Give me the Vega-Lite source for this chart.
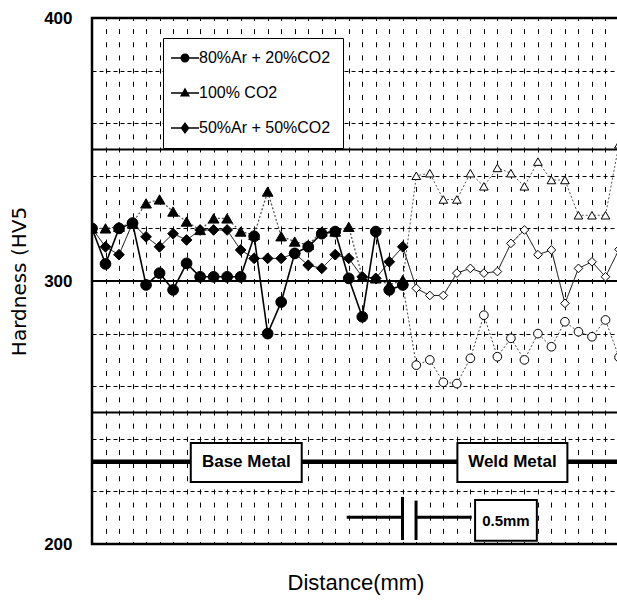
{
 "$schema": "https://vega.github.io/schema/vega-lite/v6.json",
 "width": 527,
 "height": 526,
 "autosize": {"type": "none"},
 "padding": {"left": 92, "top": 18, "right": 0, "bottom": 64},
 "background": "white",
 "config": {"view": {"stroke": "black", "strokeWidth": 2.5}},
 "datasets": {
  "pts": [
   {"gas":"80%Ar + 20%CO2","pos":0,"hv":320,"zone":"base"},
   {"gas":"80%Ar + 20%CO2","pos":1,"hv":306.5,"zone":"base"},
   {"gas":"80%Ar + 20%CO2","pos":2,"hv":320,"zone":"base"},
   {"gas":"80%Ar + 20%CO2","pos":3,"hv":322,"zone":"base"},
   {"gas":"80%Ar + 20%CO2","pos":4,"hv":298.5,"zone":"base"},
   {"gas":"80%Ar + 20%CO2","pos":5,"hv":303,"zone":"base"},
   {"gas":"80%Ar + 20%CO2","pos":6,"hv":296.6,"zone":"base"},
   {"gas":"80%Ar + 20%CO2","pos":7,"hv":306.7,"zone":"base"},
   {"gas":"80%Ar + 20%CO2","pos":8,"hv":301.6,"zone":"base"},
   {"gas":"80%Ar + 20%CO2","pos":9,"hv":301.6,"zone":"base"},
   {"gas":"80%Ar + 20%CO2","pos":10,"hv":301.6,"zone":"base"},
   {"gas":"80%Ar + 20%CO2","pos":11,"hv":301.6,"zone":"base"},
   {"gas":"80%Ar + 20%CO2","pos":12,"hv":317,"zone":"base"},
   {"gas":"80%Ar + 20%CO2","pos":13,"hv":280,"zone":"base"},
   {"gas":"80%Ar + 20%CO2","pos":14,"hv":292,"zone":"base"},
   {"gas":"80%Ar + 20%CO2","pos":15,"hv":310.5,"zone":"base"},
   {"gas":"80%Ar + 20%CO2","pos":16,"hv":313,"zone":"base"},
   {"gas":"80%Ar + 20%CO2","pos":17,"hv":318,"zone":"base"},
   {"gas":"80%Ar + 20%CO2","pos":18,"hv":318.8,"zone":"base"},
   {"gas":"80%Ar + 20%CO2","pos":19,"hv":301,"zone":"base"},
   {"gas":"80%Ar + 20%CO2","pos":20,"hv":286.4,"zone":"base"},
   {"gas":"80%Ar + 20%CO2","pos":21,"hv":318.8,"zone":"base"},
   {"gas":"80%Ar + 20%CO2","pos":22,"hv":296.6,"zone":"base"},
   {"gas":"80%Ar + 20%CO2","pos":23,"hv":298.5,"zone":"base"},
   {"gas":"80%Ar + 20%CO2","pos":24,"hv":268,"zone":"weld"},
   {"gas":"80%Ar + 20%CO2","pos":25,"hv":270,"zone":"weld"},
   {"gas":"80%Ar + 20%CO2","pos":26,"hv":261.5,"zone":"weld"},
   {"gas":"80%Ar + 20%CO2","pos":27,"hv":261,"zone":"weld"},
   {"gas":"80%Ar + 20%CO2","pos":28,"hv":270.6,"zone":"weld"},
   {"gas":"80%Ar + 20%CO2","pos":29,"hv":287,"zone":"weld"},
   {"gas":"80%Ar + 20%CO2","pos":30,"hv":271.2,"zone":"weld"},
   {"gas":"80%Ar + 20%CO2","pos":31,"hv":278.2,"zone":"weld"},
   {"gas":"80%Ar + 20%CO2","pos":32,"hv":270,"zone":"weld"},
   {"gas":"80%Ar + 20%CO2","pos":33,"hv":280,"zone":"weld"},
   {"gas":"80%Ar + 20%CO2","pos":34,"hv":275,"zone":"weld"},
   {"gas":"80%Ar + 20%CO2","pos":35,"hv":284.5,"zone":"weld"},
   {"gas":"80%Ar + 20%CO2","pos":36,"hv":280.7,"zone":"weld"},
   {"gas":"80%Ar + 20%CO2","pos":37,"hv":278.8,"zone":"weld"},
   {"gas":"80%Ar + 20%CO2","pos":38,"hv":285.2,"zone":"weld"},
   {"gas":"80%Ar + 20%CO2","pos":39,"hv":271,"zone":"weld"},
   {"gas":"100% CO2","pos":0,"hv":320,"zone":"base"},
   {"gas":"100% CO2","pos":1,"hv":320,"zone":"base"},
   {"gas":"100% CO2","pos":2,"hv":320.6,"zone":"base"},
   {"gas":"100% CO2","pos":3,"hv":322,"zone":"base"},
   {"gas":"100% CO2","pos":4,"hv":329.5,"zone":"base"},
   {"gas":"100% CO2","pos":5,"hv":331,"zone":"base"},
   {"gas":"100% CO2","pos":6,"hv":326.4,"zone":"base"},
   {"gas":"100% CO2","pos":7,"hv":322.6,"zone":"base"},
   {"gas":"100% CO2","pos":8,"hv":319.4,"zone":"base"},
   {"gas":"100% CO2","pos":9,"hv":323.8,"zone":"base"},
   {"gas":"100% CO2","pos":10,"hv":323.8,"zone":"base"},
   {"gas":"100% CO2","pos":11,"hv":318.8,"zone":"base"},
   {"gas":"100% CO2","pos":12,"hv":317.5,"zone":"base"},
   {"gas":"100% CO2","pos":13,"hv":334,"zone":"base"},
   {"gas":"100% CO2","pos":14,"hv":317,"zone":"base"},
   {"gas":"100% CO2","pos":15,"hv":315,"zone":"base"},
   {"gas":"100% CO2","pos":16,"hv":313.7,"zone":"base"},
   {"gas":"100% CO2","pos":17,"hv":318.8,"zone":"base"},
   {"gas":"100% CO2","pos":18,"hv":318.8,"zone":"base"},
   {"gas":"100% CO2","pos":19,"hv":320.6,"zone":"base"},
   {"gas":"100% CO2","pos":20,"hv":301.6,"zone":"base"},
   {"gas":"100% CO2","pos":21,"hv":301,"zone":"base"},
   {"gas":"100% CO2","pos":22,"hv":298.5,"zone":"base"},
   {"gas":"100% CO2","pos":23,"hv":300.4,"zone":"base"},
   {"gas":"100% CO2","pos":24,"hv":340,"zone":"weld"},
   {"gas":"100% CO2","pos":25,"hv":341,"zone":"weld"},
   {"gas":"100% CO2","pos":26,"hv":331,"zone":"weld"},
   {"gas":"100% CO2","pos":27,"hv":331,"zone":"weld"},
   {"gas":"100% CO2","pos":28,"hv":341,"zone":"weld"},
   {"gas":"100% CO2","pos":29,"hv":336,"zone":"weld"},
   {"gas":"100% CO2","pos":30,"hv":343,"zone":"weld"},
   {"gas":"100% CO2","pos":31,"hv":341,"zone":"weld"},
   {"gas":"100% CO2","pos":32,"hv":336,"zone":"weld"},
   {"gas":"100% CO2","pos":33,"hv":345.4,"zone":"weld"},
   {"gas":"100% CO2","pos":34,"hv":338.4,"zone":"weld"},
   {"gas":"100% CO2","pos":35,"hv":338.4,"zone":"weld"},
   {"gas":"100% CO2","pos":36,"hv":325,"zone":"weld"},
   {"gas":"100% CO2","pos":37,"hv":325,"zone":"weld"},
   {"gas":"100% CO2","pos":38,"hv":325,"zone":"weld"},
   {"gas":"100% CO2","pos":39,"hv":352,"zone":"weld"},
   {"gas":"50%Ar + 50%CO2","pos":0,"hv":320,"zone":"base"},
   {"gas":"50%Ar + 50%CO2","pos":1,"hv":313,"zone":"base"},
   {"gas":"50%Ar + 50%CO2","pos":2,"hv":310,"zone":"base"},
   {"gas":"50%Ar + 50%CO2","pos":3,"hv":322,"zone":"base"},
   {"gas":"50%Ar + 50%CO2","pos":4,"hv":316.8,"zone":"base"},
   {"gas":"50%Ar + 50%CO2","pos":5,"hv":313,"zone":"base"},
   {"gas":"50%Ar + 50%CO2","pos":6,"hv":318,"zone":"base"},
   {"gas":"50%Ar + 50%CO2","pos":7,"hv":315.6,"zone":"base"},
   {"gas":"50%Ar + 50%CO2","pos":8,"hv":319.4,"zone":"base"},
   {"gas":"50%Ar + 50%CO2","pos":9,"hv":319.4,"zone":"base"},
   {"gas":"50%Ar + 50%CO2","pos":10,"hv":319.4,"zone":"base"},
   {"gas":"50%Ar + 50%CO2","pos":11,"hv":311.8,"zone":"base"},
   {"gas":"50%Ar + 50%CO2","pos":12,"hv":308.6,"zone":"base"},
   {"gas":"50%Ar + 50%CO2","pos":13,"hv":308.6,"zone":"base"},
   {"gas":"50%Ar + 50%CO2","pos":14,"hv":308.6,"zone":"base"},
   {"gas":"50%Ar + 50%CO2","pos":15,"hv":310.5,"zone":"base"},
   {"gas":"50%Ar + 50%CO2","pos":16,"hv":306,"zone":"base"},
   {"gas":"50%Ar + 50%CO2","pos":17,"hv":304.8,"zone":"base"},
   {"gas":"50%Ar + 50%CO2","pos":18,"hv":310,"zone":"base"},
   {"gas":"50%Ar + 50%CO2","pos":19,"hv":308.6,"zone":"base"},
   {"gas":"50%Ar + 50%CO2","pos":20,"hv":301.6,"zone":"base"},
   {"gas":"50%Ar + 50%CO2","pos":21,"hv":301,"zone":"base"},
   {"gas":"50%Ar + 50%CO2","pos":22,"hv":307.3,"zone":"base"},
   {"gas":"50%Ar + 50%CO2","pos":23,"hv":313,"zone":"base"},
   {"gas":"50%Ar + 50%CO2","pos":24,"hv":297.2,"zone":"weld"},
   {"gas":"50%Ar + 50%CO2","pos":25,"hv":294.5,"zone":"weld"},
   {"gas":"50%Ar + 50%CO2","pos":26,"hv":294.5,"zone":"weld"},
   {"gas":"50%Ar + 50%CO2","pos":27,"hv":303,"zone":"weld"},
   {"gas":"50%Ar + 50%CO2","pos":28,"hv":304.8,"zone":"weld"},
   {"gas":"50%Ar + 50%CO2","pos":29,"hv":303,"zone":"weld"},
   {"gas":"50%Ar + 50%CO2","pos":30,"hv":303.6,"zone":"weld"},
   {"gas":"50%Ar + 50%CO2","pos":31,"hv":314.3,"zone":"weld"},
   {"gas":"50%Ar + 50%CO2","pos":32,"hv":319.4,"zone":"weld"},
   {"gas":"50%Ar + 50%CO2","pos":33,"hv":310,"zone":"weld"},
   {"gas":"50%Ar + 50%CO2","pos":34,"hv":311.8,"zone":"weld"},
   {"gas":"50%Ar + 50%CO2","pos":35,"hv":291.5,"zone":"weld"},
   {"gas":"50%Ar + 50%CO2","pos":36,"hv":304.8,"zone":"weld"},
   {"gas":"50%Ar + 50%CO2","pos":37,"hv":307.3,"zone":"weld"},
   {"gas":"50%Ar + 50%CO2","pos":38,"hv":301.6,"zone":"weld"},
   {"gas":"50%Ar + 50%CO2","pos":39,"hv":312,"zone":"weld"}
  ],
  "refs": [{"hv": 250}, {"hv": 300}, {"hv": 350}]
 },
 "data": {"name": "pts"},
 "resolve": {"scale": {"shape": "independent", "strokeDash": "independent", "strokeWidth": "independent", "color": "independent"}},
 "layer": [
  {
   "transform": [{"filter": "datum.zone == 'base'"}],
   "mark": {"type": "line", "clip": true},
   "encoding": {
    "x": {"field": "pos", "type": "quantitative", "scale": {"domain": [0, 39], "nice": false, "zero": false},
     "axis": {"values": [0,1,2,3,4,5,6,7,8,9,10,11,12,13,14,15,16,17,18,19,20,21,22,23,24,25,26,27,28,29,30,31,32,33,34,35,36,37,38,39],
      "tickCount": 40, "labelOverlap": false,
      "labels": false, "ticks": false, "domain": false, "grid": true, "gridColor": "black", "gridOpacity": 1, "gridWidth": 1, "gridDash": [5, 8.15], "gridDashOffset": 2.5,
      "title": "Distance(mm)", "titleFont": "Liberation Sans Narrow, Arial Narrow, Liberation Sans, Arial, sans-serif", "titleFontSize": 22, "titleFontWeight": "normal", "titleColor": "black", "titleY": 38, "titleBaseline": "middle"}},
    "y": {"field": "hv", "type": "quantitative", "scale": {"domain": [200, 400], "nice": false, "zero": false},
     "axis": {"values": [200,210,220,230,240,250,260,270,280,290,300,310,320,330,340,350,360,370,380,390,400],
      "labelExpr": "datum.value % 50 === 0 ? datum.label : ''", "labelOverlap": false,
      "grid": true, "gridColor": "black", "gridOpacity": 1, "gridWidth": 1, "gridDash": [4, 3],
      "ticks": false, "domain": false,
      "labelFont": "Liberation Sans Narrow, Arial Narrow, Liberation Sans, Arial, sans-serif", "labelFontSize": 17, "labelFontWeight": "bold", "labelColor": "black", "labelPadding": 20,
      "title": "Hardness (HV5", "titleFont": "DejaVu Sans, Liberation Sans, sans-serif", "titleFontSize": 20, "titleFontWeight": "normal", "titleColor": "black",
      "titleX": -73, "titleY": 263, "titleAngle": -90, "titleAlign": "center", "titleBaseline": "middle"}},
    "detail": {"field": "gas", "type": "nominal"},
    "color": {"field": "gas", "type": "nominal", "scale": {"domain": ["80%Ar + 20%CO2", "100% CO2", "50%Ar + 50%CO2"], "range": ["black", "#555555", "black"]}, "legend": null},
    "strokeDash": {"field": "gas", "type": "nominal", "scale": {"domain": ["80%Ar + 20%CO2", "100% CO2", "50%Ar + 50%CO2"], "range": [[1, 0], [2, 2], [1, 0]]}, "legend": null},
    "strokeWidth": {"field": "gas", "type": "nominal", "scale": {"domain": ["80%Ar + 20%CO2", "100% CO2", "50%Ar + 50%CO2"], "range": [1.6, 1, 1.6]}, "legend": null}
   }
  },
  {
   "transform": [{"filter": "datum.pos >= 23"}],
   "mark": {"type": "line", "clip": true},
   "encoding": {
    "x": {"field": "pos", "type": "quantitative", "scale": {"domain": [0, 39], "nice": false, "zero": false}},
    "y": {"field": "hv", "type": "quantitative", "scale": {"domain": [200, 400], "nice": false, "zero": false}},
    "detail": {"field": "gas", "type": "nominal"},
    "color": {"field": "gas", "type": "nominal", "scale": {"domain": ["80%Ar + 20%CO2", "100% CO2", "50%Ar + 50%CO2"], "range": ["#444444", "#555555", "black"]}, "legend": null},
    "strokeDash": {"field": "gas", "type": "nominal", "scale": {"domain": ["80%Ar + 20%CO2", "100% CO2", "50%Ar + 50%CO2"], "range": [[2, 2], [2, 2], [1, 0]]}, "legend": null},
    "strokeWidth": {"field": "gas", "type": "nominal", "scale": {"domain": ["80%Ar + 20%CO2", "100% CO2", "50%Ar + 50%CO2"], "range": [1, 1, 1.5]}, "legend": null}
   }
  },
  {
   "data": {"name": "refs"},
   "mark": {"type": "rule", "color": "black", "strokeWidth": 2},
   "encoding": {
    "y": {"field": "hv", "type": "quantitative", "scale": {"domain": [200, 400], "nice": false, "zero": false}}
   }
  },
  {
   "data": {"values": [{}]},
   "mark": {"type": "rule", "color": "black", "strokeWidth": 4.5},
   "encoding": {
    "y": {"datum": 231.3, "scale": {"domain": [200, 400], "nice": false, "zero": false}}
   }
  },
  {
   "data": {"values": [{}]},
   "mark": {"type": "rect", "fill": "white", "stroke": "black", "strokeWidth": 2},
   "encoding": {
    "x": {"datum": 7.31, "scale": {"domain": [0, 39], "nice": false, "zero": false}},
    "x2": {"datum": 15.52},
    "y": {"datum": 238.4, "scale": {"domain": [200, 400], "nice": false, "zero": false}},
    "y2": {"datum": 223.6}
   }
  },
  {
   "data": {"values": [{}]},
   "mark": {"type": "rect", "fill": "white", "stroke": "black", "strokeWidth": 2},
   "encoding": {
    "x": {"datum": 27.04, "scale": {"domain": [0, 39], "nice": false, "zero": false}},
    "x2": {"datum": 35.18},
    "y": {"datum": 238.4, "scale": {"domain": [200, 400], "nice": false, "zero": false}},
    "y2": {"datum": 223.6}
   }
  },
  {
   "data": {"values": [{}]},
   "mark": {"type": "rect", "fill": "white", "stroke": "black", "strokeWidth": 2},
   "encoding": {
    "x": {"datum": 28.35, "scale": {"domain": [0, 39], "nice": false, "zero": false}},
    "x2": {"datum": 32.92},
    "y": {"datum": 216.7, "scale": {"domain": [200, 400], "nice": false, "zero": false}},
    "y2": {"datum": 201.2}
   }
  },
  {
   "data": {"values": [{}]},
   "mark": {"type": "rule", "color": "black", "strokeWidth": 3},
   "encoding": {
    "x": {"datum": 18.85, "scale": {"domain": [0, 39], "nice": false, "zero": false}},
    "x2": {"datum": 22.95},
    "y": {"datum": 210.2, "scale": {"domain": [200, 400], "nice": false, "zero": false}}
   }
  },
  {
   "data": {"values": [{}]},
   "mark": {"type": "rule", "color": "black", "strokeWidth": 3},
   "encoding": {
    "x": {"datum": 23.98, "scale": {"domain": [0, 39], "nice": false, "zero": false}},
    "x2": {"datum": 28.1},
    "y": {"datum": 210.2, "scale": {"domain": [200, 400], "nice": false, "zero": false}}
   }
  },
  {
   "data": {"values": [{}]},
   "mark": {"type": "rule", "color": "black", "strokeWidth": 3},
   "encoding": {
    "x": {"datum": 22.98, "scale": {"domain": [0, 39], "nice": false, "zero": false}},
    "y": {"datum": 217.9, "scale": {"domain": [200, 400], "nice": false, "zero": false}},
    "y2": {"datum": 201.5}
   }
  },
  {
   "data": {"values": [{}]},
   "mark": {"type": "rule", "color": "black", "strokeWidth": 3},
   "encoding": {
    "x": {"datum": 23.98, "scale": {"domain": [0, 39], "nice": false, "zero": false}},
    "y": {"datum": 216.5, "scale": {"domain": [200, 400], "nice": false, "zero": false}},
    "y2": {"datum": 201.5}
   }
  },
  {
   "data": {"values": [{}]},
   "mark": {"type": "text", "text": "Base Metal", "font": "Liberation Sans Narrow, Arial Narrow, Liberation Sans, Arial, sans-serif", "fontSize": 17, "fontWeight": "bold", "color": "black", "align": "center", "baseline": "middle"},
   "encoding": {
    "x": {"datum": 11.42, "scale": {"domain": [0, 39], "nice": false, "zero": false}},
    "y": {"datum": 231.2, "scale": {"domain": [200, 400], "nice": false, "zero": false}}
   }
  },
  {
   "data": {"values": [{}]},
   "mark": {"type": "text", "text": "Weld Metal", "font": "Liberation Sans Narrow, Arial Narrow, Liberation Sans, Arial, sans-serif", "fontSize": 17, "fontWeight": "bold", "color": "black", "align": "center", "baseline": "middle"},
   "encoding": {
    "x": {"datum": 31.11, "scale": {"domain": [0, 39], "nice": false, "zero": false}},
    "y": {"datum": 231.2, "scale": {"domain": [200, 400], "nice": false, "zero": false}}
   }
  },
  {
   "data": {"values": [{}]},
   "mark": {"type": "text", "text": "0.5mm", "font": "Liberation Sans Narrow, Arial Narrow, Liberation Sans, Arial, sans-serif", "fontSize": 15, "fontWeight": "bold", "color": "black", "align": "center", "baseline": "middle"},
   "encoding": {
    "x": {"datum": 30.63, "scale": {"domain": [0, 39], "nice": false, "zero": false}},
    "y": {"datum": 208.9, "scale": {"domain": [200, 400], "nice": false, "zero": false}}
   }
  },
  {
   "mark": {"type": "point", "filled": true, "stroke": "black", "strokeWidth": 1, "opacity": 1, "clip": true},
   "encoding": {
    "x": {"field": "pos", "type": "quantitative", "scale": {"domain": [0, 39], "nice": false, "zero": false}},
    "y": {"field": "hv", "type": "quantitative", "scale": {"domain": [200, 400], "nice": false, "zero": false}},
    "shape": {"field": "gas", "type": "nominal", "scale": {"domain": ["80%Ar + 20%CO2", "100% CO2", "50%Ar + 50%CO2"], "range": ["circle", "triangle-up", "diamond"]}, "legend": null},
    "fill": {"field": "zone", "type": "nominal", "scale": {"domain": ["base", "weld"], "range": ["black", "white"]}, "legend": null},
    "size": {"field": "zone", "type": "nominal", "scale": {"domain": ["base", "weld"], "range": [115, 75]}, "legend": null}
   }
  },
  {
   "mark": {"type": "point", "filled": true, "color": "black", "opacity": 0},
   "encoding": {
    "x": {"field": "pos", "type": "quantitative", "scale": {"domain": [0, 39], "nice": false, "zero": false}},
    "y": {"field": "hv", "type": "quantitative", "scale": {"domain": [200, 400], "nice": false, "zero": false}},
    "shape": {"field": "gas", "type": "nominal",
     "scale": {"domain": ["80%Ar + 20%CO2", "100% CO2", "50%Ar + 50%CO2"],
      "range": [
       "M-2.8,-0.14H2.8V0.14H-2.8Z M0.9,0A0.9,0.9,0,1,1,-0.9,0A0.9,0.9,0,1,1,0.9,0Z",
       "M-2.8,-0.14H2.8V0.14H-2.8Z M0,-1.1L1,0.7H-1Z",
       "M-2.8,-0.14H2.8V0.14H-2.8Z M0,-1.2L0.9,0L0,1.2L-0.9,0Z"
      ]},
     "legend": {"title": null, "orient": "none", "legendX": 71, "legendY": 20, "strokeColor": "black", "fillColor": "white", "padding": 12,
      "symbolSize": 100, "symbolOffset": 2, "labelOffset": 6, "rowPadding": 19, "labelLimit": 300,
      "labelFont": "Liberation Sans Narrow, Arial Narrow, Liberation Sans, Arial, sans-serif", "labelFontSize": 16, "labelColor": "black",
      "symbolFillColor": "black", "symbolStrokeColor": "black", "symbolStrokeWidth": 0, "symbolOpacity": 1}}
   }
  }
 ]
}
